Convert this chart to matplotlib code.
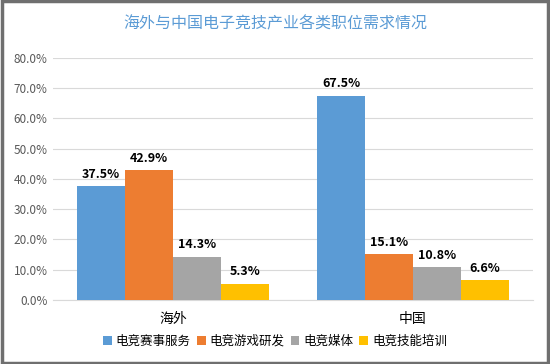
import numpy as np
import matplotlib
matplotlib.use("Agg")
import matplotlib.pyplot as plt
from matplotlib.patches import Rectangle

plt.rcParams['font.family'] = ['Noto Sans CJK SC', 'DejaVu Sans']

regions = ["海外", "中国"]
series = ["电竞赛事服务", "电竞游戏研发", "电竞媒体", "电竞技能培训"]
overseas = [37.5, 42.9, 14.3, 5.3]
china = [67.5, 15.1, 10.8, 6.6]
colors = ["#5B9BD5", "#ED7D31", "#A5A5A5", "#FFC000"]

values = np.array([overseas, china]).T / 100.0

fig = plt.figure(figsize=(5.5, 3.64), dpi=100)
ax = fig.add_axes([0.0965, 0.176, 0.8725, 0.665])

x = np.arange(len(regions))
width = 0.2
for i, name in enumerate(series):
    pos = x + (i - 1.5) * width
    bars = ax.bar(pos, values[i], width, color=colors[i], label=name, zorder=3)
    for b, v in zip(bars, values[i]):
        ax.text(b.get_x() + b.get_width() / 2, v + 0.018, f"{v * 100:.1f}%",
                ha="center", va="bottom", fontsize=9, fontweight="bold", color="#000000")

ax.set_xlim(-0.5, 1.5)
ax.set_ylim(0, 0.8)
ax.set_yticks(np.arange(0, 0.81, 0.1))
ax.set_yticklabels([f"{t * 100:.1f}%" for t in np.arange(0, 0.81, 0.1)], fontsize=8.5, color="#595959")
ax.set_xticks(x)
ax.set_xticklabels(regions, fontsize=10, color="#000000")
ax.tick_params(axis="both", length=0)
ax.tick_params(axis="x", pad=9)
ax.tick_params(axis="y", pad=4)
ax.grid(axis="y", color="#D9D9D9", linewidth=0.8, zorder=0)
for s in ["top", "right", "left"]:
    ax.spines[s].set_visible(False)
ax.spines["bottom"].set_color("#D9D9D9")

fig.text(0.5, 0.935, "海外与中国电子竞技产业各类职位需求情况", ha="center", va="center",
         fontsize=11.5, color="#5B9BD5")

fig.legend(loc="center", bbox_to_anchor=(0.5, 0.063), ncol=4, frameon=False,
           fontsize=9, handlelength=0.7, handleheight=0.7, handletextpad=0.3,
           columnspacing=0.5)

fig.patches.append(Rectangle((0.003, 0.004), 0.994, 0.992, transform=fig.transFigure,
                             fill=False, edgecolor="#6F6F6F", linewidth=2.5))

fig.savefig("out.png", dpi=100)
